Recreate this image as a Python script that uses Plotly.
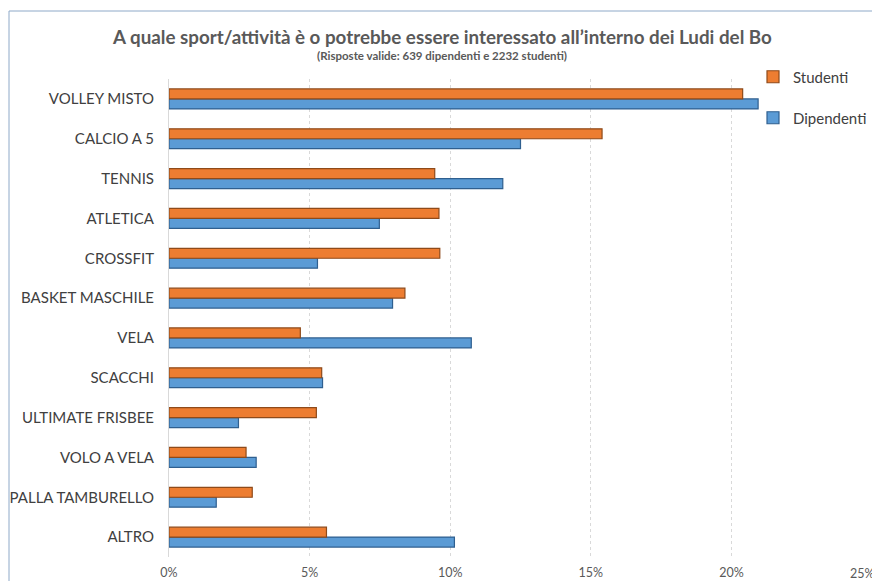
import plotly.graph_objects as go

categories = ["VOLLEY MISTO", "CALCIO A 5", "TENNIS", "ATLETICA", "CROSSFIT",
              "BASKET MASCHILE", "VELA", "SCACCHI", "ULTIMATE FRISBEE",
              "VOLO A VELA", "PALLA TAMBURELLO", "ALTRO"]
studenti = [20.4, 15.4, 9.45, 9.6, 9.63, 8.39, 4.67, 5.43, 5.24, 2.74, 2.96, 5.6]
dipendenti = [20.95, 12.5, 11.87, 7.48, 5.28, 7.95, 10.75, 5.46, 2.47, 3.1, 1.68, 10.15]
x_ticks = [0, 5, 10, 15, 20, 25]
x_labels = ["0%", "5%", "10%", "15%", "20%", "25%"]

title = "A quale sport/attività è o potrebbe essere interessato all\u2019interno dei Ludi del Bo"
subtitle = "(Risposte valide: 639 dipendenti e 2232 studenti)"

W, H = 880, 581
OFF = 8  # page body margin offset
ml, mr, mt, mb = 161, 16, 71, 32
pw, ph = W - ml - mr, H - mt - mb

def px_x(p):
    return (p - OFF - ml) / pw

def px_y(p):
    return (H - mb - (p - OFF)) / ph

fig = go.Figure()
fig.add_trace(go.Bar(
    y=categories, x=dipendenti, orientation="h", name="Dipendenti",
    marker=dict(color="#5B9BD5", line=dict(color="#2F5F8F", width=1.2)),
    legend="legend2"))
fig.add_trace(go.Bar(
    y=categories, x=studenti, orientation="h", name="Studenti",
    marker=dict(color="#ED7D31", line=dict(color="#8E4A1A", width=1.2)),
    legend="legend"))

leg_common = dict(xanchor="left", yanchor="middle",
                  font=dict(size=15, color="#404040", family="Lato, sans-serif"),
                  bgcolor="rgba(0,0,0,0)", itemwidth=30)

# last tick label is drawn right-aligned near the page edge (as in the reference)
shown_labels = x_labels[:-1] + [""]

fig.update_layout(
    width=W, height=H,
    margin=dict(l=ml, r=mr, t=mt, b=mb, autoexpand=False),
    paper_bgcolor="white", plot_bgcolor="white",
    barmode="group", bargap=0.5, bargroupgap=0,
    font=dict(family="Lato, Open Sans, sans-serif", color="#404040"),
    showlegend=True,
    legend=dict(x=px_x(753), y=px_y(77), **leg_common),
    legend2=dict(x=px_x(753), y=px_y(118), **leg_common),
    xaxis=dict(range=[0, 25], tickvals=x_ticks, ticktext=shown_labels,
               showgrid=True, gridcolor="#D9D9D9", griddash="dot", gridwidth=1,
               zeroline=False, showline=False, automargin=False,
               ticklabelstandoff=6,
               tickfont=dict(size=12.5, color="#595959"), fixedrange=True),
    yaxis=dict(categoryorder="array", categoryarray=categories[::-1],
               showline=True, linecolor="#D9D9D9", linewidth=1,
               ticks="", ticklabelstandoff=11, automargin=False,
               tickfont=dict(size=15, color="#404040"), fixedrange=True),
    annotations=[
        dict(text="<b>" + title + "</b>", x=px_x(442), y=px_y(36), xref="paper", yref="paper",
             showarrow=False, xanchor="center", yanchor="middle",
             font=dict(size=18.8, color="#595959", family="Lato, sans-serif")),
        dict(text="<b>" + subtitle + "</b>", x=px_x(442), y=px_y(55), xref="paper", yref="paper",
             showarrow=False, xanchor="center", yanchor="middle",
             font=dict(size=11.5, color="#595959", family="Lato, sans-serif")),
        dict(text=x_labels[-1], x=x_ticks[-1], y=0, xref="x", yref="paper",
             xanchor="right", yanchor="top", xshift=5, yshift=-7,
             showarrow=False, font=dict(size=12.5, color="#595959")),
    ],
    shapes=[
        dict(type="rect", xref="paper", yref="paper",
             x0=px_x(9), x1=px_x(877), y0=px_y(600), y1=px_y(11),
             line=dict(color="#8EA9C8", width=1), fillcolor="rgba(0,0,0,0)", layer="below"),
    ],
)

fig.write_html("out.html")
